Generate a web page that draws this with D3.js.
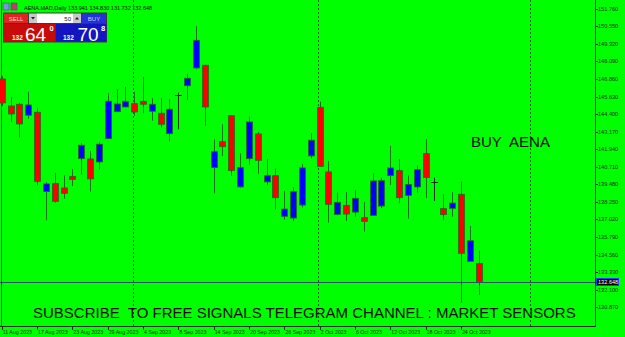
<!DOCTYPE html>
<html>
<head>
<meta charset="utf-8">
<script src="https://cdn.jsdelivr.net/npm/d3@7"></script>
<style>
  html, body { margin: 0; padding: 0; background: #00ff00; }
  svg { display: block; font-family: "Liberation Sans", Arial, sans-serif; }
</style>
</head>
<body>
<div id="chart"></div>
<script>
// AENA.MAD daily candles, 11 Aug 2023 - 26 Oct 2023
var dates = ["11 Aug 2023","14 Aug 2023","15 Aug 2023","16 Aug 2023","17 Aug 2023","18 Aug 2023","21 Aug 2023","22 Aug 2023",
  "23 Aug 2023","24 Aug 2023","25 Aug 2023","28 Aug 2023","29 Aug 2023","30 Aug 2023","31 Aug 2023","1 Sep 2023",
  "4 Sep 2023","5 Sep 2023","6 Sep 2023","7 Sep 2023","8 Sep 2023","11 Sep 2023","12 Sep 2023","13 Sep 2023",
  "14 Sep 2023","15 Sep 2023","18 Sep 2023","19 Sep 2023","20 Sep 2023","21 Sep 2023","22 Sep 2023","25 Sep 2023",
  "26 Sep 2023","27 Sep 2023","28 Sep 2023","29 Sep 2023","2 Oct 2023","3 Oct 2023","4 Oct 2023","5 Oct 2023",
  "6 Oct 2023","9 Oct 2023","10 Oct 2023","11 Oct 2023","12 Oct 2023","13 Oct 2023","16 Oct 2023","17 Oct 2023",
  "18 Oct 2023","19 Oct 2023","20 Oct 2023","23 Oct 2023","24 Oct 2023","25 Oct 2023","26 Oct 2023"]

var open  = [146.86,144.97,145.09,144.32,144.53,138.97,139.55,139.23,140.04,141.28,141.26,141.05,142.68,144.57,144.90,145.13,
  145.30,144.60,144.46,143.03,145.72,146.39,147.63,147.82,140.65,142.47,144.29,139.30,141.28,143.01,139.65,140.09,
  137.24,137.12,138.03,141.47,144.88,140.35,137.38,138.01,137.54,137.15,137.31,137.96,140.09,140.44,138.71,139.30,
  141.63,139.62,137.78,137.80,138.78,134.09,133.941]
var high  = [147.07,145.60,145.20,145.97,144.81,139.62,140.28,140.11,140.56,142.36,141.82,142.45,145.88,146.16,146.30,145.97,
  147.00,145.51,145.53,145.44,145.90,147.21,150.55,147.85,142.64,143.69,144.31,141.66,144.22,143.15,141.23,140.60,
  139.02,139.27,140.91,143.08,145.27,141.12,138.90,138.95,139.09,138.24,140.25,139.93,142.17,141.23,140.09,140.81,
  142.64,139.95,138.78,138.95,139.67,136.56,134.830]
var low   = [144.97,143.85,142.75,144.08,139.41,136.96,138.20,138.48,139.37,140.16,138.97,140.53,142.65,144.53,144.88,144.29,
  144.46,143.94,143.45,142.50,143.34,145.39,147.54,143.59,138.83,141.45,140.09,139.25,140.86,140.23,139.39,137.73,
  137.01,136.91,137.87,141.31,140.72,136.80,137.31,136.91,137.22,136.17,137.29,137.82,139.44,138.15,137.08,138.90,
  138.52,138.31,136.96,137.22,131.17,134.07,131.732]
var close = [145.18,144.41,143.71,145.04,139.69,139.51,138.29,138.85,139.83,142.22,139.86,142.29,145.30,145.11,145.30,144.55,
  145.09,145.09,143.69,144.74,145.72,146.91,149.57,144.90,141.77,142.12,140.44,140.65,143.85,141.16,140.11,138.55,
  137.75,138.97,140.63,142.57,140.74,138.08,138.22,137.40,138.50,136.89,139.72,139.74,140.63,138.55,139.48,140.51,
  139.95,139.62,137.36,138.17,134.65,135.53,132.648]

var priceTicks = [151.760,150.550,149.320,148.090,146.860,145.630,144.400,143.170,141.940,140.710,
  139.480,138.250,137.020,135.790,134.560,133.330,132.100,130.870]
var separators = [15, 36, 60]   // month starts (Sep, Oct, Nov), bar index
var lastPrice = 132.648

var W = 625, H = 337
var plotRight = 595, plotBottom = 326

var svg = d3.select("#chart").append("svg")
  .attr("width", W).attr("height", H)

svg.append("rect").attr("width", W).attr("height", H).attr("fill", "#00ff00")

var x = d3.scaleLinear().domain([0, 52]).range([1.7, 460.9])
var y = d3.scaleLinear().domain([130.87, 151.76]).range([307.3, 9])

var bars = dates.map(function(d, i) {
  return {date: d, i: i, o: open[i], h: high[i], l: low[i], c: close[i]}
})

// period separators
svg.selectAll("line.sep")
  .data(separators)
  .enter().append("line")
  .attr("class", "sep")
  .attr("x1", function(d) { return Math.round(x(d) - 1.3) + 0.5 })
  .attr("x2", function(d) { return Math.round(x(d) - 1.3) + 0.5 })
  .attr("y1", 0).attr("y2", plotBottom)
  .attr("stroke", "#145214").attr("stroke-dasharray", "2,2")

// frame
svg.append("line").attr("x1", 1.5).attr("x2", 1.5).attr("y1", 0).attr("y2", plotBottom)
  .attr("stroke", "#0f5f0f")
svg.append("line").attr("x1", plotRight + 0.5).attr("x2", plotRight + 0.5).attr("y1", 0).attr("y2", plotBottom + 0.5)
  .attr("stroke", "#1c301c")
svg.append("line").attr("x1", 0).attr("x2", plotRight + 0.5).attr("y1", plotBottom + 0.5).attr("y2", plotBottom + 0.5)
  .attr("stroke", "#1c301c")

// candles
var candle = svg.append("g").selectAll("g")
  .data(bars)
  .enter().append("g")

candle.append("line")
  .attr("x1", function(d) { return Math.round(x(d.i)) + 0.5 })
  .attr("x2", function(d) { return Math.round(x(d.i)) + 0.5 })
  .attr("y1", function(d) { return y(d.h) })
  .attr("y2", function(d) { return y(d.l) })
  .attr("stroke", function(d) { return d.o == d.c ? "#103010" : "#187018" })

candle.filter(function(d) { return d.o != d.c }).append("rect")
  .attr("x", function(d) { return Math.round(x(d.i)) - 2.5 })
  .attr("width", 6)
  .attr("y", function(d) { return y(Math.max(d.o, d.c)) })
  .attr("height", function(d) { return Math.abs(y(d.o) - y(d.c)) })
  .attr("fill", function(d) { return d.c > d.o ? "#0000ff" : "#ff0000" })
  .attr("stroke", "#1c6e1c").attr("stroke-width", 0.8)

candle.filter(function(d) { return d.o == d.c }).append("line")
  .attr("x1", function(d) { return Math.round(x(d.i)) - 3 })
  .attr("x2", function(d) { return Math.round(x(d.i)) + 4 })
  .attr("y1", function(d) { return Math.round(y(d.o)) + 0.5 })
  .attr("y2", function(d) { return Math.round(y(d.o)) + 0.5 })
  .attr("stroke", "#103010")

// bid line
svg.append("line")
  .attr("x1", 0).attr("x2", plotRight)
  .attr("y1", Math.round(y(lastPrice)) + 0.5).attr("y2", Math.round(y(lastPrice)) + 0.5)
  .attr("stroke", "#2e5462")

// price axis
var yAxis = svg.append("g")
yAxis.selectAll("line")
  .data(priceTicks)
  .enter().append("line")
  .attr("x1", plotRight).attr("x2", plotRight + 3)
  .attr("y1", function(d) { return Math.round(y(d)) + 0.5 })
  .attr("y2", function(d) { return Math.round(y(d)) + 0.5 })
  .attr("stroke", "#1c301c")
yAxis.selectAll("text")
  .data(priceTicks)
  .enter().append("text")
  .attr("x", plotRight + 3)
  .attr("y", function(d) { return y(d) + 2 })
  .attr("font-size", "5.6px")
  .attr("fill", "#103010")
  .text(function(d) { return d.toFixed(3) })

// current price label
svg.append("rect")
  .attr("x", 596.5).attr("y", Math.round(y(lastPrice)) - 3.5)
  .attr("width", 22).attr("height", 7)
  .attr("fill", "#000").attr("stroke", "#2040ff").attr("stroke-width", 1)
svg.append("text")
  .attr("x", 598).attr("y", y(lastPrice) + 2.2)
  .attr("font-size", "5.6px").attr("fill", "#fff")
  .text(lastPrice.toFixed(3))

// time axis
var timeTicks = bars.filter(function(d) { return d.i % 4 == 0 })
var xAxis = svg.append("g")
xAxis.selectAll("line")
  .data(timeTicks)
  .enter().append("line")
  .attr("x1", function(d) { return Math.round(x(d.i)) + 0.5 })
  .attr("x2", function(d) { return Math.round(x(d.i)) + 0.5 })
  .attr("y1", plotBottom).attr("y2", plotBottom + 4)
  .attr("stroke", "#1c301c")
xAxis.selectAll("text")
  .data(timeTicks)
  .enter().append("text")
  .attr("x", function(d) { return x(d.i) + 1 })
  .attr("y", plotBottom + 7.5)
  .attr("font-size", "5.3px")
  .attr("fill", "#103010")
  .text(function(d) { return d.date })

// overlay texts
svg.append("text")
  .attr("x", 471).attr("y", 146.5)
  .attr("font-size", "15px").attr("fill", "#0a0a0a")
  .attr("xml:space", "preserve")
  .text("BUY  AENA")

svg.append("text")
  .attr("x", 33).attr("y", 317.5)
  .attr("font-size", "15px").attr("fill", "#0a0a0a")
  .attr("xml:space", "preserve")
  .text("SUBSCRIBE  TO FREE SIGNALS TELEGRAM CHANNEL : MARKET SENSORS")

// header
var hdr = svg.append("g")
hdr.append("rect").attr("x", 3).attr("y", 3).attr("width", 6).attr("height", 7).attr("fill", "#8090e0").attr("stroke", "#405080").attr("stroke-width", 0.6)
hdr.append("rect").attr("x", 11).attr("y", 3).attr("width", 6).attr("height", 7).attr("fill", "#c04060").attr("stroke", "#405080").attr("stroke-width", 0.6)
hdr.append("text")
  .attr("x", 24).attr("y", 9.5)
  .attr("font-size", "5.5px").attr("fill", "#0a0a0a")
  .text("AENA.MAD,Daily " + open[54].toFixed(3) + " " + high[54].toFixed(3) + " " + low[54].toFixed(3) + " " + close[54].toFixed(3))

// one-click trading panel
var panel = svg.append("g")
panel.append("rect").attr("x", 3).attr("y", 12.5).attr("width", 104).attr("height", 30).attr("fill", "#3a3a3a")
panel.append("rect").attr("x", 4).attr("y", 13.5).attr("width", 24).attr("height", 9.5).attr("fill", "#e02424")
panel.append("text").attr("x", 16).attr("y", 20.5).attr("text-anchor", "middle")
  .attr("font-size", "6px").attr("fill", "#ffd0d0").text("SELL")
panel.append("rect").attr("x", 29).attr("y", 13.5).attr("width", 8).attr("height", 9.5).attr("fill", "#c8c8c8")
panel.append("path").attr("d", "M31,17 L35,17 L33,19.5 Z").attr("fill", "#202020")
panel.append("rect").attr("x", 37).attr("y", 13.5).attr("width", 36).attr("height", 9.5).attr("fill", "#ffffff")
panel.append("text").attr("x", 71).attr("y", 20.5).attr("text-anchor", "end")
  .attr("font-size", "6px").attr("fill", "#202020").text("50")
panel.append("rect").attr("x", 73).attr("y", 13.5).attr("width", 8).attr("height", 9.5).attr("fill", "#c8c8c8")
panel.append("path").attr("d", "M75,19.5 L79,19.5 L77,17 Z").attr("fill", "#202020")
panel.append("rect").attr("x", 82).attr("y", 13.5).attr("width", 24).attr("height", 9.5).attr("fill", "#2432d8")
panel.append("text").attr("x", 94).attr("y", 20.5).attr("text-anchor", "middle")
  .attr("font-size", "6px").attr("fill", "#c8d0ff").text("BUY")

panel.append("rect").attr("x", 4).attr("y", 24).attr("width", 51).attr("height", 17.5).attr("fill", "#c80a0a")
panel.append("rect").attr("x", 56).attr("y", 24).attr("width", 50.5).attr("height", 17.5).attr("fill", "#1414c0")
panel.append("text").attr("x", 12).attr("y", 39.5).attr("font-size", "6.5px").attr("font-weight", "bold").attr("fill", "#fff").text("132")
panel.append("text").attr("x", 25).attr("y", 40.5).attr("font-size", "19px").attr("fill", "#fff").text("64")
panel.append("text").attr("x", 49.5).attr("y", 31).attr("font-size", "7.5px").attr("font-weight", "bold").attr("fill", "#fff").text("0")
panel.append("text").attr("x", 63).attr("y", 39.5).attr("font-size", "6.5px").attr("font-weight", "bold").attr("fill", "#fff").text("132")
panel.append("text").attr("x", 77.5).attr("y", 40.5).attr("font-size", "19px").attr("fill", "#fff").text("70")
panel.append("text").attr("x", 101).attr("y", 31).attr("font-size", "7.5px").attr("font-weight", "bold").attr("fill", "#fff").text("8")
</script>
</body>
</html>
